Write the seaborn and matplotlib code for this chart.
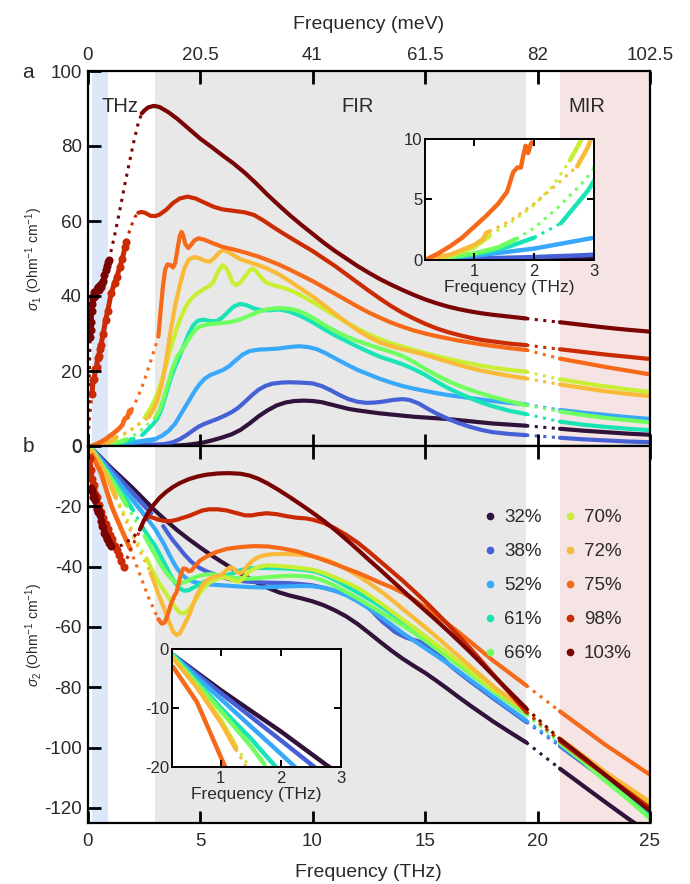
import matplotlib
matplotlib.use("Agg")
import matplotlib.pyplot as plt
from matplotlib.lines import Line2D
import seaborn as sns

# ---------------------------------------------------------------- data
dopings = ["32%", "38%", "52%", "61%", "66%", "70%", "72%", "75%", "98%", "103%"]
mev_labels = ["0", "20.5", "41", "61.5", "82", "102.5"]
thz_ticks = [0, 5, 10, 15, 20, 25]

# sigma_1 (Ohm^-1 cm^-1) vs frequency (THz); each doping has
# thz: time-domain THz data, low: dotted low-frequency bridge,
# fir: far-infrared spectrum, mir: mid-infrared spectrum
s1_32 = dict(
    thz=[(0.2, 0.0), (1.0, 0.02), (2.0, 0.05), (2.8, 0.1)],
    low=[],
    fir=[(2.8, 0.1), (3.5, 0.12), (4.0, 0.15), (4.4, 0.3), (4.8, 0.6), (5.2, 1.0), (5.6, 1.6),
         (6.0, 2.3), (6.4, 3.1), (6.8, 4.3), (7.2, 6.0), (7.6, 7.9), (8.0, 9.5), (8.4, 10.8),
         (8.8, 11.6), (9.2, 12.0), (9.6, 12.1), (10.0, 12.0), (10.4, 11.7), (10.8, 11.1),
         (11.2, 10.5), (11.6, 9.9), (12.0, 9.5), (12.5, 9.1), (13.0, 8.7), (13.5, 8.4),
         (14.0, 8.1), (14.5, 7.8), (15.0, 7.6), (15.5, 7.4), (16.0, 7.2), (16.5, 6.9),
         (17.0, 6.6), (17.5, 6.3), (18.0, 6.0), (18.75, 5.7), (19.5, 5.4)],
    mir=[(21, 4.6), (22, 4.1), (23, 3.7), (24, 3.3), (25, 3.0)])
s1_38 = dict(
    thz=[(0.2, 0.0), (1.0, 0.08), (2.0, 0.2), (2.8, 0.35)],
    low=[],
    fir=[(2.8, 0.35), (3.4, 0.5), (3.8, 1.0), (4.1, 1.8), (4.4, 2.9), (4.7, 4.2), (4.95, 5.2),
         (5.2, 5.9), (5.5, 6.6), (5.8, 7.3), (6.1, 8.1), (6.4, 9.0), (6.7, 10.2), (7.0, 11.8),
         (7.3, 13.5), (7.6, 15.0), (7.9, 16.0), (8.2, 16.6), (8.6, 16.9), (9.0, 17.0),
         (9.5, 16.9), (10.0, 16.7), (10.4, 16.0), (10.8, 14.9), (11.2, 13.6), (11.6, 12.5),
         (12.0, 11.8), (12.4, 11.5), (12.8, 11.6), (13.2, 11.9), (13.6, 12.3), (14.0, 12.5),
         (14.3, 12.3), (14.7, 11.4), (15.1, 10.0), (15.5, 8.7), (16.0, 7.3), (16.5, 6.1),
         (17.0, 5.1), (17.5, 4.3), (18.0, 3.7), (18.75, 3.2), (19.5, 2.9)],
    mir=[(21, 2.2), (22, 1.8), (23, 1.5), (24, 1.2), (25, 1.0)])
s1_52 = dict(
    thz=[(0.2, 0.0), (1.0, 0.3), (2.0, 0.9), (3.0, 1.8)],
    low=[],
    fir=[(3.0, 1.8), (3.3, 2.7), (3.6, 4.0), (3.9, 6.0), (4.1, 8.0), (4.35, 10.5), (4.6, 13.0),
         (4.8, 15.0), (5.0, 16.6), (5.2, 17.9), (5.45, 18.9), (5.7, 19.5), (6.0, 20.2),
         (6.3, 21.3), (6.6, 22.9), (6.9, 24.4), (7.2, 25.3), (7.6, 25.7), (8.0, 25.8),
         (8.5, 26.0), (9.0, 26.4), (9.4, 26.6), (9.8, 26.4), (10.2, 25.8), (10.6, 24.7),
         (11.0, 23.4), (11.5, 21.8), (12.0, 20.3), (12.5, 19.1), (13.0, 17.9), (13.5, 16.9),
         (14.0, 16.0), (14.5, 15.3), (15.0, 14.7), (15.5, 14.1), (16.0, 13.6), (16.5, 13.2),
         (17.0, 12.8), (17.5, 12.4), (18.0, 12.0), (18.75, 11.5), (19.5, 11.1)],
    mir=[(21, 9.6), (22, 8.9), (23, 8.3), (24, 7.7), (25, 7.2)])
s1_61 = dict(
    thz=[(0.2, 0.0), (0.8, 0.3), (1.2, 0.6), (1.6, 1.1), (2.0, 1.8)],
    low=[(2.0, 1.8), (2.45, 3.0)],
    fir=[(2.45, 3.0), (2.7, 4.5), (2.9, 5.7), (3.1, 7.3), (3.3, 10.0), (3.5, 14.0), (3.7, 18.0),
         (3.9, 21.3), (4.1, 24.0), (4.3, 27.0), (4.5, 30.0), (4.7, 32.2), (4.9, 33.4),
         (5.15, 33.7), (5.45, 33.3), (5.74, 33.3), (6.0, 34.3), (6.25, 35.8), (6.5, 37.2),
         (6.78, 37.9), (7.05, 37.6), (7.35, 36.8), (7.7, 36.2), (8.1, 36.2), (8.56, 36.4),
         (9.0, 35.8), (9.5, 34.6), (10.0, 33.0), (10.5, 31.2), (11.0, 29.5), (11.5, 28.0),
         (12.0, 26.5), (12.5, 25.1), (13.0, 23.8), (13.5, 22.8), (14.0, 21.8), (14.5, 20.5),
         (15.0, 19.0), (15.5, 17.2), (16.0, 15.5), (16.5, 14.1), (17.0, 12.8), (17.5, 11.6),
         (18.0, 10.6), (18.75, 9.4), (19.5, 8.5)],
    mir=[(21, 6.5), (22, 5.7), (23, 5.1), (24, 4.6), (25, 4.2)])
s1_66 = dict(
    thz=[(0.2, 0.0), (0.6, 0.2), (1.0, 0.5), (1.4, 1.0), (1.7, 1.7)],
    low=[(1.7, 1.7), (2.0, 2.6), (2.4, 4.3), (2.8, 6.3), (3.0, 7.5)],
    fir=[(3.0, 7.5), (3.2, 9.5), (3.4, 13.0), (3.6, 17.0), (3.8, 21.0), (4.0, 24.0), (4.2, 25.6),
         (4.4, 27.5), (4.6, 29.5), (4.8, 31.0), (5.0, 31.9), (5.3, 32.4), (5.6, 32.6),
         (6.0, 32.8), (6.4, 33.1), (6.8, 33.8), (7.2, 34.8), (7.6, 35.8), (8.0, 36.5),
         (8.5, 36.8), (9.0, 36.6), (9.4, 36.0), (9.8, 34.9), (10.2, 33.5), (10.6, 32.0),
         (11.0, 30.7), (11.5, 29.2), (12.0, 28.0), (12.5, 27.0), (13.0, 26.0), (13.5, 25.1),
         (14.0, 24.0), (14.5, 22.4), (15.0, 20.6), (15.5, 18.9), (16.0, 17.4), (16.5, 16.1),
         (17.0, 15.0), (17.5, 14.0), (18.0, 13.1), (18.75, 11.9), (19.5, 10.9)],
    mir=[(21, 9.2), (22, 8.3), (23, 7.5), (24, 6.9), (25, 6.3)])
s1_70 = dict(
    thz=[(0.2, 0.0), (0.6, 0.3), (1.0, 1.0), (1.25, 1.9)],
    low=[(1.25, 2.0), (1.6, 3.0), (2.0, 4.5), (2.3, 6.0), (2.6, 8.2)],
    fir=[(2.6, 8.2), (2.8, 10.0), (3.0, 12.5), (3.2, 15.5), (3.4, 19.5), (3.6, 24.0),
         (3.8, 28.2), (4.0, 32.0), (4.2, 35.0), (4.4, 37.5), (4.6, 39.2), (4.85, 40.6),
         (5.15, 41.8), (5.4, 42.6), (5.6, 43.8), (5.8, 46.5), (6.0, 48.2), (6.15, 47.6),
         (6.3, 45.8), (6.45, 43.6), (6.6, 42.9), (6.8, 43.6), (7.0, 45.2), (7.2, 46.8),
         (7.35, 47.3), (7.5, 46.6), (7.7, 45.0), (7.95, 43.6), (8.3, 42.8), (8.7, 42.2),
         (9.15, 41.2), (9.6, 39.8), (10.0, 38.4), (10.5, 36.6), (11.0, 34.8), (11.5, 33.0),
         (12.0, 31.3), (12.5, 29.8), (13.0, 28.5), (13.5, 27.4), (14.0, 26.5), (14.5, 25.6),
         (15.0, 24.8), (15.5, 24.0), (16.0, 23.3), (16.5, 22.6), (17.0, 22.0), (17.5, 21.4),
         (18.0, 20.9), (18.75, 20.3), (19.5, 19.8)],
    mir=[(21, 17.8), (22, 16.8), (23, 15.9), (24, 15.1), (25, 14.4)])
s1_72 = dict(
    thz=[(0.2, 0.0), (0.6, 0.4), (1.0, 1.2), (1.15, 1.7), (1.2, 2.2), (1.25, 2.3)],
    low=[(1.25, 2.3), (1.6, 3.2), (2.0, 4.6), (2.4, 6.3), (2.72, 7.7)],
    fir=[(2.72, 7.7), (2.9, 9.3), (3.1, 12.0), (3.3, 16.5), (3.5, 23.0), (3.7, 31.0),
         (3.9, 37.5), (4.1, 42.8), (4.3, 47.3), (4.5, 49.7), (4.75, 50.4), (5.0, 50.0),
         (5.25, 49.3), (5.45, 49.2), (5.65, 50.2), (5.85, 51.6), (6.04, 52.3), (6.25, 51.8),
         (6.5, 50.8), (6.8, 49.8), (7.2, 49.0), (7.6, 48.2), (8.0, 47.3), (8.5, 45.8),
         (9.0, 43.9), (9.5, 41.9), (10.0, 39.9), (10.5, 37.6), (11.0, 35.3), (11.5, 33.0),
         (12.0, 30.9), (12.5, 29.1), (13.0, 27.6), (13.5, 26.6), (14.0, 25.8), (14.5, 25.1),
         (15.0, 24.3), (15.5, 23.4), (16.0, 22.5), (16.5, 21.6), (17.0, 20.8), (17.5, 20.1),
         (18.0, 19.5), (18.75, 18.7), (19.5, 18.0)],
    mir=[(21, 16.4), (22, 15.5), (23, 14.6), (24, 13.9), (25, 13.3)])
s1_75 = dict(
    thz=[(0.2, 0.0), (0.4, 0.5), (0.6, 1.1), (0.8, 1.8), (1.0, 2.7), (1.2, 3.6), (1.4, 4.6),
         (1.55, 5.6), (1.65, 7.2), (1.72, 7.6), (1.78, 7.6), (1.82, 8.6), (1.86, 9.4),
         (1.9, 8.8), (1.95, 9.6)],
    low=[(1.95, 9.6), (2.2, 12.5), (2.5, 17.0), (2.8, 22.5), (3.15, 29.2)],
    fir=[(3.15, 29.2), (3.25, 36.0), (3.35, 42.5), (3.45, 47.0), (3.55, 48.4), (3.68, 48.3),
         (3.8, 47.6), (3.9, 48.8), (4.0, 52.5), (4.1, 56.0), (4.18, 57.1), (4.26, 56.0),
         (4.35, 53.8), (4.48, 52.8), (4.6, 53.6), (4.75, 54.8), (4.93, 55.4), (5.2, 55.0),
         (5.6, 54.0), (6.0, 53.1), (6.5, 52.4), (7.0, 51.6), (7.5, 50.7), (8.0, 49.6),
         (8.5, 48.4), (9.0, 47.0), (9.5, 45.5), (10.0, 44.0), (10.5, 42.3), (11.0, 40.6),
         (11.5, 38.9), (12.0, 37.2), (12.5, 35.6), (13.0, 34.2), (13.5, 32.9), (14.0, 31.8),
         (14.5, 30.8), (15.0, 30.0), (15.5, 29.3), (16.0, 28.7), (16.5, 28.1), (17.0, 27.6),
         (17.5, 27.1), (18.0, 26.7), (18.75, 26.1), (19.5, 25.6)],
    mir=[(21, 23.3), (22, 22.2), (23, 21.1), (24, 20.1), (25, 19.1)])
s1_98 = dict(
    thz=[(0.2, 14.0), (0.25, 17.5), (0.3, 18.0), (0.35, 20.5), (0.4, 21.0), (0.45, 23.5),
         (0.5, 24.0), (0.55, 26.0), (0.6, 27.0), (0.7, 30.0), (0.8, 33.6), (0.9, 36.0),
         (1.05, 40.7), (1.2, 43.5), (1.3, 45.0), (1.44, 47.8), (1.55, 50.0), (1.67, 53.0),
         (1.72, 54.5)],
    zero=[(0.0, 0.0), (0.1, 8.0), (0.2, 14.0)],
    low=[(1.72, 54.5), (1.9, 58.0), (2.1, 61.0), (2.26, 62.2)],
    fir=[(2.26, 62.2), (2.4, 62.4), (2.55, 62.2), (2.8, 61.4), (3.0, 61.3), (3.2, 61.7),
         (3.5, 63.0), (3.8, 64.8), (4.1, 66.0), (4.45, 66.5), (4.8, 66.0), (5.2, 64.9),
         (5.6, 63.8), (6.0, 63.1), (6.5, 62.7), (7.0, 62.3), (7.4, 61.6), (7.8, 60.2),
         (8.3, 58.2), (8.8, 56.3), (9.3, 54.5), (10.0, 52.0), (10.5, 50.0), (11.0, 48.0),
         (11.5, 45.8), (12.0, 43.6), (12.5, 41.4), (13.0, 39.3), (13.5, 37.3), (14.0, 35.5),
         (14.5, 34.0), (15.0, 32.6), (15.5, 31.4), (16.0, 30.4), (16.5, 29.6), (17.0, 28.9),
         (17.5, 28.3), (18.0, 27.9), (18.75, 27.3), (19.5, 26.9)],
    mir=[(21, 25.8), (22, 25.1), (23, 24.4), (24, 23.8), (25, 23.2)])
s1_103 = dict(
    thz=[(0.12, 29.0), (0.14, 33.0), (0.16, 31.0), (0.18, 36.0), (0.2, 38.0), (0.23, 40.0),
         (0.26, 39.5), (0.3, 41.0), (0.35, 40.0), (0.4, 42.0), (0.45, 42.5), (0.5, 41.5),
         (0.55, 43.0), (0.6, 42.5), (0.65, 43.5), (0.7, 44.0), (0.75, 45.5), (0.8, 47.0),
         (0.85, 48.0), (0.9, 49.0), (0.95, 49.5)],
    zero=[(0.0, 0.0), (0.05, 12.0), (0.1, 24.0), (0.12, 29.0)],
    low=[(0.95, 49.5), (1.2, 56.0), (1.44, 63.0), (1.7, 71.0), (2.04, 80.7), (2.25, 86.0),
         (2.41, 88.7)],
    fir=[(2.41, 88.7), (2.55, 89.6), (2.7, 90.3), (2.95, 90.7), (3.2, 90.4), (3.6, 89.0),
         (4.0, 87.2), (4.5, 84.6), (5.0, 82.0), (5.5, 79.8), (6.0, 77.5), (6.5, 75.3),
         (7.0, 72.8), (7.5, 70.0), (8.0, 67.0), (8.5, 64.2), (9.0, 61.5), (9.5, 59.0),
         (10.0, 56.6), (10.5, 54.2), (11.0, 52.0), (11.5, 50.0), (12.0, 48.0), (12.5, 46.2),
         (13.0, 44.5), (13.5, 43.0), (14.0, 41.6), (14.5, 40.3), (15.0, 39.1), (15.5, 38.1),
         (16.0, 37.2), (16.5, 36.5), (17.0, 35.9), (17.5, 35.4), (18.0, 35.0), (18.75, 34.5),
         (19.5, 34.0)],
    mir=[(21, 33.0), (22, 32.3), (23, 31.6), (24, 31.0), (25, 30.5)])

# sigma_2 (Ohm^-1 cm^-1) vs frequency (THz)
s2_32 = dict(
    thz=[(0.2, -1.0), (1.0, -7.0), (2.0, -14.0), (2.8, -20.0)],
    low=[],
    fir=[(2.8, -20.0), (3.0, -21.4), (3.5, -24.8), (4.0, -28.0), (4.5, -30.9), (5.0, -33.6),
         (5.5, -36.2), (6.0, -38.6), (6.5, -40.9), (7.0, -43.1), (7.5, -45.2), (8.0, -47.0),
         (8.5, -48.5), (9.0, -49.6), (9.5, -50.5), (10.0, -51.5), (10.5, -52.8), (11.0, -54.5),
         (11.5, -56.5), (12.0, -59.0), (12.5, -61.9), (13.0, -64.9), (13.5, -67.8),
         (14.0, -70.5), (14.5, -72.9), (15.0, -75.2), (15.5, -77.8), (16.0, -80.5),
         (16.5, -83.3), (17.0, -86.0), (17.5, -88.6), (18.0, -91.2), (18.75, -94.8),
         (19.5, -98.3)],
    mir=[(21, -107.0), (22, -112.5), (23, -118.0), (24, -123.4), (25, -128.5)])
s2_38 = dict(
    thz=[(0.2, -1.0), (1.0, -7.5), (2.0, -15.5), (2.8, -22.0)],
    low=[(2.8, -22.0), (3.37, -26.6)],
    fir=[(3.37, -26.6), (3.6, -29.2), (3.8, -31.3), (4.0, -33.1), (4.3, -35.9), (4.6, -38.3),
         (4.95, -40.3), (5.3, -41.6), (5.8, -43.0), (6.33, -44.2), (7.0, -44.9), (7.8, -45.3),
         (8.5, -45.4), (9.0, -45.5), (9.5, -45.8), (10.0, -46.2), (10.5, -47.0), (11.0, -48.0),
         (11.4, -48.9), (11.7, -49.7), (12.0, -50.9), (12.3, -52.5), (12.6, -54.4),
         (12.85, -56.3), (13.1, -58.2), (13.4, -60.0), (13.65, -61.6), (13.9, -62.6),
         (14.15, -63.5), (14.4, -64.1), (14.6, -64.5), (14.8, -64.9), (15.1, -66.0),
         (15.4, -67.7), (15.7, -69.8), (16.1, -72.7), (16.5, -75.1), (17.0, -78.0),
         (17.5, -80.7), (18.0, -83.5), (18.75, -87.5), (19.5, -91.5)],
    mir=[(21, -99.5), (22, -105.0), (23, -110.5), (24, -116.0), (25, -121.5)])
s2_52 = dict(
    thz=[(0.2, -1.0), (1.0, -8.5), (2.0, -17.8), (2.6, -23.5)],
    low=[],
    fir=[(2.6, -23.5), (2.8, -25.5), (3.0, -27.5), (3.2, -30.0), (3.4, -32.5), (3.6, -35.5),
         (3.81, -38.5), (4.0, -40.8), (4.2, -42.7), (4.41, -44.0), (4.7, -45.0), (5.0, -45.5),
         (5.3, -45.8), (5.59, -46.0), (6.2, -46.3), (6.78, -46.6), (7.3, -46.8), (7.8, -46.9),
         (8.4, -46.7), (9.0, -46.5), (9.5, -46.4), (10.0, -46.5), (10.5, -47.0), (11.0, -48.0),
         (11.5, -49.5), (12.0, -51.5), (12.5, -53.8), (13.0, -56.5), (13.5, -59.2),
         (14.0, -62.0), (14.5, -64.5), (15.0, -67.0), (15.5, -69.5), (16.0, -72.0),
         (16.5, -74.7), (17.0, -77.5), (17.5, -80.2), (18.0, -83.0), (18.75, -87.0),
         (19.5, -91.0)],
    mir=[(21, -99.0), (22, -104.5), (23, -110.0), (24, -116.5), (25, -123.0)])
s2_61 = dict(
    thz=[(0.2, -1.0), (1.0, -10.0), (1.5, -15.2), (2.0, -21.0)],
    low=[(2.0, -21.0), (2.45, -27.0)],
    fir=[(2.45, -27.0), (2.7, -29.8), (3.0, -33.0), (3.25, -36.5), (3.5, -40.0), (3.7, -43.0),
         (3.9, -45.5), (4.1, -47.2), (4.3, -48.0), (4.5, -47.8), (4.7, -47.0), (4.9, -46.1),
         (5.2, -45.0), (5.5, -44.1), (5.85, -43.4), (6.2, -42.8), (6.5, -42.1), (6.8, -41.2),
         (7.05, -40.7), (7.3, -40.5), (7.7, -40.4), (8.2, -40.5), (8.7, -40.6), (9.2, -40.8),
         (9.7, -41.1), (10.2, -41.8), (10.7, -43.3), (11.2, -45.2), (11.7, -47.3),
         (12.2, -49.4), (12.7, -51.6), (13.2, -54.0), (13.7, -56.5), (14.2, -59.1),
         (14.7, -61.8), (15.2, -64.6), (15.7, -67.4), (16.2, -70.2), (16.7, -73.2),
         (17.2, -76.2), (17.7, -79.2), (18.2, -82.2), (18.85, -85.4), (19.5, -88.5)],
    mir=[(21, -97.5), (22, -103.5), (23, -109.5), (24, -116.0), (25, -122.5)])
s2_66 = dict(
    thz=[(0.2, -1.2), (1.0, -10.5), (1.5, -16.5), (1.72, -19.5)],
    low=[(1.72, -19.5), (2.0, -23.0), (2.55, -30.0)],
    fir=[(2.55, -30.0), (2.75, -32.8), (3.0, -36.0), (3.2, -38.6), (3.4, -41.0), (3.6, -43.0),
         (3.8, -44.5), (3.95, -45.3), (4.1, -45.5), (4.3, -45.2), (4.5, -44.5), (4.75, -43.6),
         (5.0, -43.0), (5.25, -42.6), (5.5, -42.5), (5.75, -42.8), (6.0, -43.2), (6.5, -43.7),
         (7.0, -44.0), (7.5, -43.9), (8.0, -43.5), (8.5, -43.2), (9.0, -43.0), (9.5, -43.1),
         (10.0, -43.5), (10.5, -44.7), (11.0, -46.4), (11.5, -48.4), (12.0, -50.5),
         (12.5, -52.7), (13.0, -55.0), (13.5, -57.2), (14.0, -59.5), (14.5, -61.9),
         (15.0, -64.5), (15.5, -67.2), (16.0, -70.0), (16.5, -72.7), (17.0, -75.5),
         (17.5, -78.2), (18.0, -81.0), (18.75, -85.0), (19.5, -89.0)],
    mir=[(21, -98.5), (22, -104.5), (23, -111.0), (24, -117.0), (25, -123.5)])
s2_70 = dict(
    thz=[(0.2, -1.5), (0.6, -6.5), (1.0, -12.0), (1.25, -16.5)],
    low=[(1.25, -16.5), (1.8, -25.0), (2.3, -33.0), (2.63, -37.3)],
    fir=[(2.63, -37.3), (2.8, -40.0), (3.0, -43.0), (3.25, -46.2), (3.5, -49.0), (3.75, -52.0),
         (3.95, -54.0), (4.1, -55.2), (4.26, -55.5), (4.4, -55.0), (4.55, -53.8), (4.7, -52.2),
         (4.85, -50.5), (5.0, -48.6), (5.2, -46.8), (5.4, -45.4), (5.6, -44.5), (5.85, -43.8),
         (6.1, -43.5), (6.3, -43.9), (6.5, -44.7), (6.7, -45.0), (6.85, -44.4), (7.0, -43.0),
         (7.15, -41.8), (7.37, -40.8), (7.65, -40.0), (7.96, -39.6), (8.4, -39.7),
         (9.0, -40.1), (9.5, -40.5), (10.0, -41.0), (10.5, -42.1), (11.0, -43.6),
         (11.5, -45.2), (12.0, -47.0), (12.5, -49.4), (13.0, -52.0), (13.5, -54.7),
         (14.0, -57.5), (14.5, -60.2), (15.0, -63.0), (15.5, -65.8), (16.0, -68.6),
         (16.5, -71.5), (17.0, -74.5), (17.5, -77.5), (18.0, -80.5), (18.75, -84.2),
         (19.5, -88.0)],
    mir=[(21, -98.0), (22, -103.5), (23, -109.0), (24, -114.0), (25, -119.0)])
s2_72 = dict(
    thz=[(0.2, -1.5), (0.6, -6.5), (1.0, -12.5), (1.25, -17.0)],
    low=[(1.25, -17.0), (1.42, -20.0), (2.0, -29.5), (2.5, -37.5), (2.8, -42.0)],
    fir=[(2.8, -42.0), (3.0, -46.0), (3.2, -50.0), (3.4, -53.8), (3.6, -57.8), (3.8, -61.5),
         (3.96, -62.7), (4.1, -62.2), (4.25, -60.0), (4.4, -57.8), (4.56, -55.3), (4.7, -52.3),
         (4.85, -49.6), (5.0, -47.3), (5.15, -45.6), (5.35, -44.3), (5.59, -43.4), (5.8, -43.0),
         (6.0, -42.5), (6.15, -41.3), (6.33, -40.2), (6.5, -40.7), (6.65, -41.9), (6.8, -42.2),
         (6.95, -41.3), (7.1, -39.8), (7.3, -38.2), (7.55, -37.0), (7.8, -36.3), (8.2, -35.9),
         (8.7, -35.8), (9.2, -35.9), (9.7, -36.2), (10.2, -36.9), (10.7, -38.0), (11.2, -39.6),
         (11.7, -41.6), (12.2, -43.8), (12.7, -46.4), (13.2, -49.1), (13.7, -52.1),
         (14.2, -55.2), (14.7, -58.2), (15.2, -61.3), (15.7, -64.5), (16.2, -67.8),
         (16.7, -71.0), (17.2, -74.3), (17.7, -77.5), (18.2, -80.7), (18.85, -84.2),
         (19.5, -87.5)],
    mir=[(21, -97.0), (22, -102.5), (23, -108.0), (24, -113.0), (25, -118.0)])
s2_75 = dict(
    thz=[(0.2, -3.0), (0.6, -9.0), (1.07, -20.0), (1.5, -27.5), (1.89, -34.0)],
    low=[(1.89, -34.0), (2.3, -42.0), (2.7, -50.0), (3.15, -57.4)],
    fir=[(3.15, -57.4), (3.3, -58.9), (3.42, -58.6), (3.55, -56.3), (3.7, -52.6), (3.85, -49.8),
         (3.96, -48.4), (4.05, -45.8), (4.15, -42.5), (4.26, -40.6), (4.38, -40.8),
         (4.5, -41.5), (4.62, -41.3), (4.8, -39.6), (5.0, -38.0), (5.3, -36.6), (5.7, -35.2),
         (6.2, -34.1), (6.8, -33.5), (7.4, -33.2), (8.0, -33.3), (8.6, -33.9), (9.3, -34.9),
         (10.0, -36.5), (10.8, -38.6), (11.5, -40.6), (12.0, -42.0), (12.5, -43.6),
         (13.0, -45.3), (13.5, -46.8), (14.0, -48.6), (14.5, -50.9), (15.0, -53.5),
         (15.5, -56.2), (16.0, -58.9), (16.5, -61.8), (17.0, -64.8), (17.5, -67.9),
         (18.0, -71.0), (18.75, -75.2), (19.5, -79.4)],
    mir=[(21, -88.0), (22, -93.5), (23, -99.0), (24, -104.0), (25, -109.0)])
s2_98 = dict(
    thz=[(0.1, -4.0), (0.15, -8.0), (0.2, -11.0), (0.25, -14.0), (0.3, -13.0), (0.35, -16.0),
         (0.4, -17.0), (0.5, -19.5), (0.6, -22.0), (0.7, -24.0), (0.8, -26.0), (0.9, -27.5),
         (1.0, -29.5), (1.1, -31.0), (1.2, -33.0), (1.3, -34.5), (1.4, -36.0), (1.5, -38.0),
         (1.6, -40.0)],
    low=[(1.6, -40.0), (2.0, -33.0), (2.4, -27.0), (2.74, -23.3)],
    fir=[(2.74, -23.3), (2.95, -23.9), (3.2, -24.5), (3.45, -24.9), (3.7, -24.9), (3.95, -24.5),
         (4.2, -23.9), (4.5, -23.2), (4.8, -22.3), (5.1, -21.4), (5.4, -21.0), (5.8, -21.0),
         (6.2, -21.4), (6.6, -22.2), (7.0, -23.0), (7.3, -23.0), (7.6, -22.6), (7.96, -22.3),
         (8.4, -22.6), (8.8, -23.2), (9.3, -23.8), (9.7, -24.0), (10.0, -24.4), (10.5, -25.5),
         (11.0, -27.3), (11.5, -29.5), (12.0, -32.0), (12.5, -35.0), (13.0, -38.2),
         (13.5, -41.4), (14.0, -44.6), (14.5, -48.0), (15.0, -51.5), (15.5, -55.2),
         (16.0, -59.0), (16.5, -63.0), (17.0, -67.0), (17.5, -71.2), (18.0, -75.5),
         (18.75, -81.8), (19.5, -88.2)],
    mir=[(21, -97.8), (22, -103.5), (23, -109.0), (24, -114.5), (25, -120.0)])
s2_103 = dict(
    thz=[(0.15, -14.0), (0.2, -15.0), (0.25, -17.0), (0.3, -16.5), (0.35, -18.0), (0.4, -21.0),
         (0.45, -22.0), (0.5, -21.5), (0.55, -23.0), (0.6, -25.0), (0.65, -26.5), (0.7, -27.0),
         (0.75, -29.0), (0.8, -30.0), (0.85, -31.0), (0.95, -32.0), (1.05, -33.0)],
    low=[(1.05, -33.0), (1.5, -33.0), (2.0, -30.5), (2.33, -27.7)],
    fir=[(2.33, -27.7), (2.5, -24.8), (2.7, -22.0), (2.93, -19.6), (3.2, -17.2), (3.5, -15.2),
         (3.8, -13.6), (4.1, -12.3), (4.5, -11.0), (4.9, -10.1), (5.3, -9.5), (5.8, -9.1),
         (6.3, -9.0), (6.8, -9.2), (7.2, -9.8), (7.6, -10.9), (8.0, -12.4), (8.5, -14.6),
         (9.0, -17.0), (9.5, -19.5), (10.0, -22.1), (10.5, -24.8), (11.0, -27.8), (11.5, -31.0),
         (12.0, -34.3), (12.5, -37.7), (13.0, -41.0), (13.5, -44.4), (14.0, -47.8),
         (14.5, -51.2), (15.0, -54.5), (15.5, -57.8), (16.0, -61.2), (16.5, -64.7),
         (17.0, -68.3), (17.5, -72.0), (18.0, -75.8), (18.75, -81.4), (19.5, -87.0)],
    mir=[(21, -97.2), (22, -103.0), (23, -109.0), (24, -115.0), (25, -121.0)])

sigma1 = [s1_32, s1_38, s1_52, s1_61, s1_66, s1_70, s1_72, s1_75, s1_98, s1_103]
sigma2 = [s2_32, s2_38, s2_52, s2_61, s2_66, s2_70, s2_72, s2_75, s2_98, s2_103]
scatter_series = {"98%", "103%"}   # dense THz data drawn with dots

# spectral windows (THz)
thz_window = (0.2, 0.9)
fir_window = (3.0, 19.5)
mir_window = (21.0, 25.0)

# ---------------------------------------------------------------- style
sns.set_theme(style="ticks")
TXT = "#2a2a2a"
plt.rcParams.update({
    "font.family": ["Liberation Sans", "DejaVu Sans"],
    "mathtext.fontset": "custom",
    "mathtext.rm": "Liberation Sans",
    "mathtext.it": "Liberation Sans:italic",
    "axes.unicode_minus": False,
    "axes.linewidth": 1.6,
    "axes.edgecolor": "black",
    "axes.axisbelow": False,
})
cmap = plt.get_cmap("turbo")
colors = [cmap(i / 9) for i in range(10)]

LW = 3.0
DOT = (0, (1.0, 1.8))


def draw(ax, pts, color, style, lw=LW, z=2):
    if not pts:
        return
    f = [p[0] for p in pts]
    v = [p[1] for p in pts]
    if style == "solid":
        sns.lineplot(x=f, y=v, ax=ax, color=color, lw=lw, sort=False, estimator=None,
                     legend=False, solid_capstyle="round", solid_joinstyle="round", zorder=z)
    elif style == "dot":
        sns.lineplot(x=f, y=v, ax=ax, color=color, lw=2.2, sort=False, estimator=None,
                     legend=False, linestyle=DOT, zorder=z)
    elif style == "blob":
        sns.lineplot(x=f, y=v, ax=ax, color=color, lw=3.6, sort=False, estimator=None,
                     legend=False, zorder=z)
        sns.scatterplot(x=f, y=v, ax=ax, color=color, s=34, linewidth=0, legend=False,
                        zorder=z + 0.1)


def draw_series(ax, d, color, label):
    if "zero" in d:
        draw(ax, d["zero"], color, "dot")
    draw(ax, d["thz"], color, "blob" if label in scatter_series else "solid", lw=3.4)
    draw(ax, d["low"], color, "dot")
    draw(ax, d["fir"], color, "solid")
    draw(ax, [d["fir"][-1], d["mir"][0]], color, "dot")
    draw(ax, d["mir"], color, "solid")


def shade(ax):
    ax.axvspan(*thz_window, color="#dce7f9", lw=0, zorder=0)
    ax.axvspan(*fir_window, color="#e8e8e8", lw=0, zorder=0)
    ax.axvspan(*mir_window, color="#f6e3e3", lw=0, zorder=0)


# ---------------------------------------------------------------- figure
W, H = 690, 884
fig = plt.figure(figsize=(W / 100, H / 100), dpi=100)
fig.patch.set_facecolor("white")


def rect(x0, y0, x1, y1):
    return [x0 / W, 1 - y1 / H, (x1 - x0) / W, (y1 - y0) / H]


ax_a = fig.add_axes(rect(87.5, 71, 650, 446))
ax_b = fig.add_axes(rect(87.5, 446, 650, 823))
ins_a = fig.add_axes(rect(425, 138.5, 594, 259.5))
ins_b = fig.add_axes(rect(171.7, 649, 340.7, 766.7))

for ax in (ax_a, ax_b):
    ax.set_facecolor("white")
    shade(ax)
    ax.set_xlim(0, 25)
    ax.set_xticks(thz_ticks)

for d, c, lab in zip(sigma1, colors, dopings):
    draw_series(ax_a, d, c, lab)
for d, c, lab in zip(sigma2, colors, dopings):
    draw_series(ax_b, d, c, lab)

# panel a
ax_a.set_ylim(0, 100)
ax_a.set_yticks([0, 20, 40, 60, 80, 100])
ax_a.set_xticklabels(mev_labels)
ax_a.xaxis.set_label_position("top")
ax_a.set_xlabel("Frequency (meV)", fontsize=14, color=TXT, labelpad=13)
ax_a.set_ylabel(r"$\sigma_1$ (Ohm$^{-1}$ cm$^{-1}$)", fontsize=10, color=TXT)
ax_a.yaxis.set_label_coords(-0.076, 0.5)

ax_a.text(1.45, 90.5, "THz", ha="center", va="center", fontsize=14.5, color=TXT)
ax_a.text(12.0, 90.5, "FIR", ha="center", va="center", fontsize=14.5, color=TXT)
ax_a.text(22.2, 90.5, "MIR", ha="center", va="center", fontsize=14.5, color=TXT)

# panel b
ax_b.set_ylim(-125, 0)
ax_b.set_yticks([-120, -100, -80, -60, -40, -20, 0])
ax_b.set_xlabel("Frequency (THz)", fontsize=14, color=TXT, labelpad=10)
ax_b.set_ylabel(r"$\sigma_2$ (Ohm$^{-1}$ cm$^{-1}$)", fontsize=10, color=TXT)
ax_b.yaxis.set_label_coords(-0.076, 0.5)

# tick styling (inward marks, MATLAB-like)
for ax in (ax_a, ax_b):
    ax.tick_params(axis="both", which="major", direction="in", length=9, width=2.0,
                   color="black", labelsize=13.5, labelcolor=TXT,
                   left=True, right=False, top=True, bottom=True)
    ax.tick_params(axis="y", pad=4)
ax_a.tick_params(axis="x", labeltop=True, labelbottom=False, pad=5)
ax_b.tick_params(axis="x", labeltop=False, labelbottom=True, pad=7)

handles = [Line2D([], [], ls="", marker="o", ms=4.5, color=c) for c in colors]
ax_b.legend(handles, dopings, ncol=2, loc="upper left", bbox_to_anchor=(0.707, 0.832),
            frameon=False, handlelength=0.5, handletextpad=0.5, columnspacing=1.25,
            labelspacing=0.9, borderpad=0, borderaxespad=0, fontsize=13.5, labelcolor=TXT)

fig.text(28 / W, 1 - 73 / H, "a", fontsize=15, color=TXT, ha="center", va="center")
fig.text(28 / W, 1 - 447 / H, "b", fontsize=15, color=TXT, ha="center", va="center")

# insets: low-frequency zoom, doped samples below 98%
for ins, data, ylim, yt in ((ins_a, sigma1, (0, 10), [0, 5, 10]),
                            (ins_b, sigma2, (-20, 0), [-20, -10, 0])):
    ins.set_facecolor("white")
    for d, c, lab in zip(data[:8], colors[:8], dopings[:8]):
        draw(ins, d["thz"], c, "solid", lw=3.2)
        draw(ins, d["low"], c, "dot")
        draw(ins, d["fir"], c, "solid", lw=3.2)
    ins.set_xlim(0.18, 3.0)
    ins.set_ylim(*ylim)
    ins.set_xticks([1, 2, 3])
    ins.set_yticks(yt)
    ins.tick_params(axis="both", which="major", direction="in", top=True, right=True,
                    length=5, width=1.4, color="black", labelsize=12, labelcolor=TXT)
    ins.tick_params(axis="y", pad=2)
    ins.tick_params(axis="x", pad=3)
    ins.set_xlabel("Frequency (THz)", fontsize=12.5, color=TXT, labelpad=1)
    ins.set_ylabel("")
    for sp in ins.spines.values():
        sp.set_linewidth(1.4)
        sp.set_zorder(5)

for ax in (ax_a, ax_b):
    for sp in ax.spines.values():
        sp.set_zorder(5)

fig.savefig("out.png", dpi=100, facecolor="white")
